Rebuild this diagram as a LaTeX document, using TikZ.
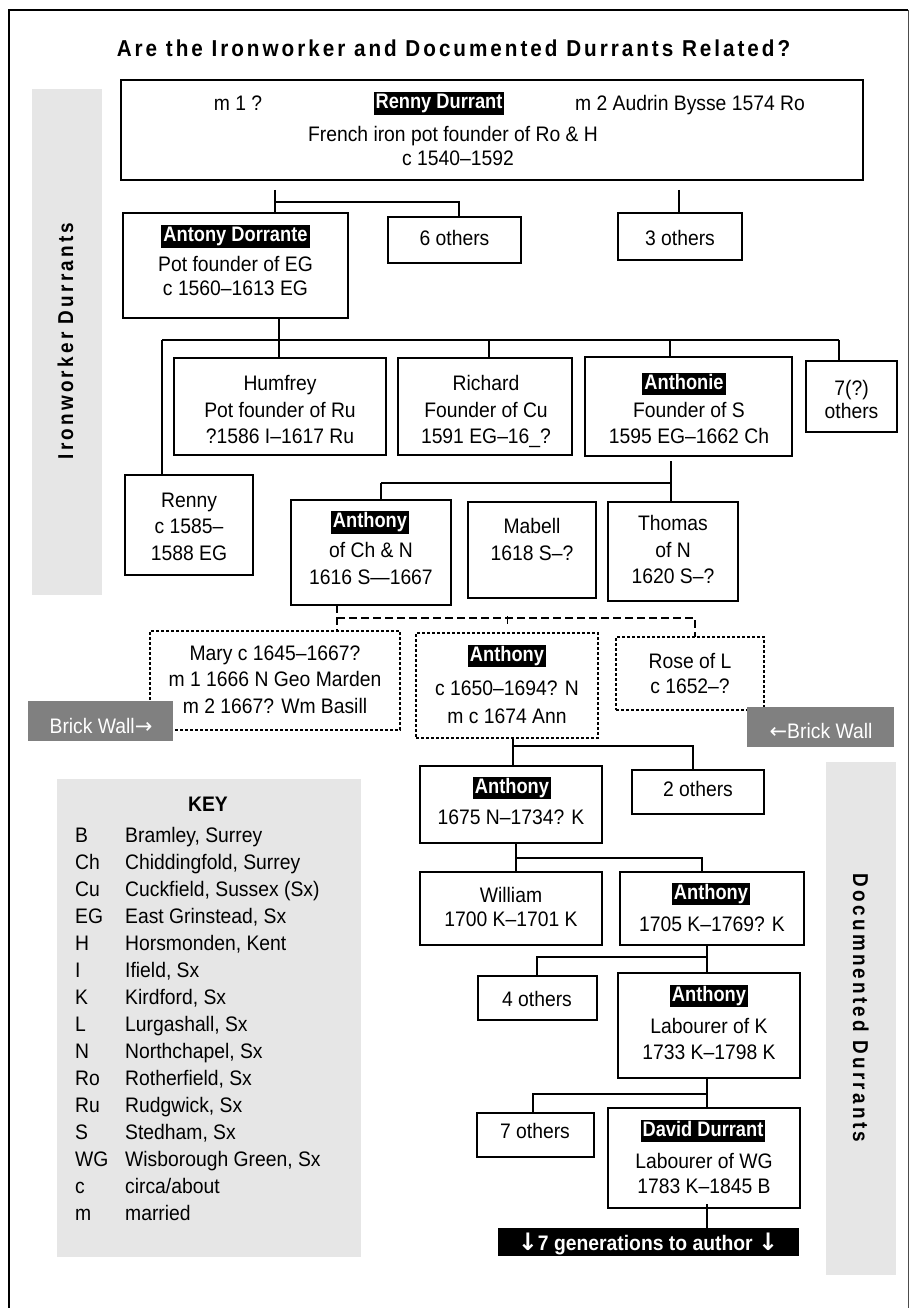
\documentclass[tikz,border=0pt]{standalone}
\usepackage{fontspec}
\setmainfont{Liberation Sans}[FakeStretch=0.92]
\newfontfamily\hlfont[FakeStretch=0.87]{Liberation Sans}
\newfontfamily\arrowfont{DejaVu Sans}
\newfontfamily\titlefont[FakeStretch=0.9,LetterSpace=12.9]{Liberation Sans}
\newfontfamily\sidefont[FakeStretch=0.88,LetterSpace=15]{Liberation Sans}
\definecolor{bandgray}{HTML}{E6E6E6}
\definecolor{brickgray}{HTML}{808080}
\newcommand\pbox[6][box]{\node[#1, minimum width={#5-#3}, minimum height={#6-#4}] (#2) at ({(#3+#5)/2},{(#4+#6)/2}) {};}
\newcommand\ptl[4]{\node[txt] (#1) at (#2,#3) {#4};}
\begin{document}
\begin{tikzpicture}[x=1pt,y=-1pt,
  box/.style={draw, line width=1.3pt, inner sep=0pt, outer sep=0pt},
  dbox/.style={draw, line width=1.2pt, dash pattern=on 3pt off 2pt, inner sep=0pt, outer sep=0pt},
  band/.style={fill=bandgray, inner sep=0pt, outer sep=0pt},
  brick/.style={fill=brickgray, inner sep=0pt, outer sep=0pt},
  blackbar/.style={fill=black, inner sep=0pt, outer sep=0pt},
  txt/.style={anchor=base, inner sep=0pt, font=\fontsize{21}{25}\selectfont},
  wtxt/.style={txt, text=white},
  hl/.style={fill=black, text=white, inner xsep=2pt, inner ysep=2pt, text height=14.5pt, text depth=4pt, font=\hlfont\bfseries\fontsize{21}{25}\selectfont},
  conn/.style={line width=1.3pt},
  dconn/.style={line width=1.2pt, dash pattern=on 8pt off 4pt},
  keyt/.style={anchor=base west, inner sep=0pt, font=\fontsize{21}{25}\selectfont}
]
\useasboundingbox (0,0) rectangle (912,1308);
\fill[white] (0,0) rectangle (912,1308);
% outer frame
\draw[line width=2.2pt] (9,1320) -- (9,10) -- (908,10);
\draw[line width=1pt, black!70] (908,10) -- (908,1320);
% title
\node[anchor=base, inner sep=0pt, font=\titlefont\bfseries\fontsize{23}{27}\selectfont] (title) at (453.5,57) {Are the Ironworker and Documented Durrants Related?};
% bands and key
\pbox[band]{leftband}{32}{89}{102}{595}
\pbox[band]{rightband}{826}{762}{896}{1275}
\pbox[band]{keybox}{57}{779}{361}{1257}
\node[rotate=90, anchor=base, inner sep=0pt, font=\sidefont\bfseries\fontsize{21.5}{24}\selectfont] (lefttitle) at (73,341) {Ironworker Durrants};
\node[rotate=-90, anchor=base, inner sep=0pt, font=\sidefont\bfseries\fontsize{21.5}{24}\selectfont] (righttitle) at (853,1008) {Documnented Durrants};
% key
\node[anchor=base, inner sep=0pt, font=\bfseries\fontsize{21}{25}\selectfont] (keyhead) at (208,811) {KEY};
\foreach \ab/\de [count=\i from 0] in {B/{Bramley, Surrey}, Ch/{Chiddingfold, Surrey}, Cu/{Cuckfield, Sussex (Sx)}, EG/{East Grinstead, Sx}, H/{Horsmonden, Kent}, I/{Ifield, Sx}, K/{Kirdford, Sx}, L/{Lurgashall, Sx}, N/{Northchapel, Sx}, Ro/{Rotherfield, Sx}, Ru/{Rudgwick, Sx}, S/{Stedham, Sx}, WG/{Wisborough Green, Sx}, c/{circa/about}, m/{married}}{
  \node[keyt] (ka\i) at (75,{842+27*\i}) {\ab};
  \node[keyt] (kd\i) at (125,{842+27*\i}) {\de};
}
% boxes
\pbox{top}{121}{80}{863}{180}
\pbox{antony}{123}{213}{348}{318}
\pbox{six}{388}{217}{521}{263}
\pbox{three}{618}{213}{742}{260}
\pbox{humfrey}{174}{358}{386}{455}
\pbox{richard}{398}{358}{572}{455}
\pbox{anthonie}{585}{357}{792}{456}
\pbox{sevenA}{806}{361}{897}{432}
\pbox{renny}{125}{475}{253}{575}
\pbox{anthonyN}{291}{500}{451}{605}
\pbox{mabell}{468}{502}{596}{598}
\pbox{thomas}{608}{502}{738}{601}
\pbox[dbox]{mary}{150}{631}{400}{730}
\pbox[dbox]{anthonyM}{416}{633}{598}{738}
\pbox[dbox]{rose}{616}{637}{764}{710}
\pbox{aS}{420}{766}{602}{843}
\pbox{two}{632}{770}{764}{814}
\pbox{william}{420}{872}{602}{945}
\pbox{aT}{620}{872}{804}{945}
\pbox{four}{478}{976}{597}{1020}
\pbox{aU}{618}{973}{800}{1078}
\pbox{sevenB}{477}{1113}{594}{1157}
\pbox{david}{608}{1108}{800}{1208}
\pbox[blackbar]{bar}{498}{1228}{799}{1256}
% brick walls
\pbox[brick]{brickL}{28}{701}{173}{741}
\pbox[brick]{brickR}{747}{707}{894}{747}
\node[wtxt] (brickLt) at (101,733) {Brick Wall{\arrowfont →}};
\node[wtxt] (brickRt) at (821,738) {{\arrowfont ←}Brick Wall};
% texts
\ptl{t1}{238}{111}{m 1 ?}
\node[hl] (h1) at (439,103.5) {Renny Durrant};
\ptl{t2}{690}{111}{m 2 Audrin Bysse 1574 Ro}
\ptl{t3}{453}{142}{French iron pot founder of Ro \& H}
\ptl{t4}{458}{166}{c 1540–1592}
\node[hl] (h2) at (235.5,236.5) {Antony Dorrante};
\ptl{t5}{235.5}{271}{Pot founder of EG}
\ptl{t6}{235.5}{295}{c 1560–1613 EG}
\ptl{t7}{454.5}{245}{6 others}
\ptl{t8}{680}{245}{3 others}
\ptl{t9}{280}{390}{Humfrey}
\ptl{t10}{280}{417}{Pot founder of Ru}
\ptl{t11}{280}{443}{?1586 I–1617 Ru}
\ptl{t12}{486}{390}{Richard}
\ptl{t13}{486}{417}{Founder of Cu}
\ptl{t14}{486}{443}{1591 EG–16\_?}
\node[hl] (h3) at (684,384) {Anthonie};
\ptl{t15}{689}{417}{Founder of S}
\ptl{t16}{689}{443}{1595 EG–1662 Ch}
\ptl{t17}{851.5}{395}{7(?)}
\ptl{t18}{851.5}{418}{others}
\ptl{t19}{189}{507}{Renny}
\ptl{t20}{189}{533}{c 1585–}
\ptl{t21}{189}{560}{1588 EG}
\node[hl] (h4) at (370,522.5) {Anthony};
\ptl{t22}{371}{557}{of Ch \& N}
\ptl{t23}{371}{584}{1616 S—1667}
\ptl{t24}{532}{533}{Mabell}
\ptl{t25}{532}{560}{1618 S–?}
\ptl{t26}{673}{530}{Thomas}
\ptl{t27}{673}{557}{of N}
\ptl{t28}{673}{583}{1620 S–?}
\ptl{t29}{275}{660}{Mary c 1645–1667?}
\ptl{t30}{275}{686}{m 1 1666 N Geo Marden}
\ptl{t31}{275}{713}{m 2 1667? Wm Basill}
\node[hl] (h5) at (507,656) {Anthony};
\ptl{t32}{507}{695}{c 1650–1694? N}
\ptl{t33}{507}{723}{m c 1674 Ann}
\ptl{t34}{690}{668}{Rose of L}
\ptl{t35}{690}{693}{c 1652–?}
\node[hl] (h6) at (512,788) {Anthony};
\ptl{t36}{511}{824}{1675 N–1734? K}
\ptl{t37}{698}{796}{2 others}
\ptl{t38}{511}{902}{William}
\ptl{t39}{511}{926}{1700 K–1701 K}
\node[hl] (h7) at (711,894) {Anthony};
\ptl{t40}{712}{931}{1705 K–1769? K}
\ptl{t41}{537}{1006}{4 others}
\node[hl] (h8) at (709,996) {Anthony};
\ptl{t42}{709}{1033}{Labourer of K}
\ptl{t43}{709}{1059}{1733 K–1798 K}
\ptl{t44}{535}{1138}{7 others}
\node[hl] (h9) at (703,1131) {David Durrant};
\ptl{t45}{704}{1168}{Labourer of WG}
\ptl{t46}{704}{1193}{1783 K–1845 B}
\node[wtxt, font=\bfseries\fontsize{21}{25}\selectfont] (bart) at (648,1250) {{\arrowfont\bfseries\fontsize{24}{25}\selectfont ↓}7 generations to author {\arrowfont\bfseries\fontsize{24}{25}\selectfont ↓}};
% connectors
\coordinate (c1) at (275,190);
\coordinate (c2) at (459,202);
\coordinate (c3) at (679,190);
\draw[conn] (c1) -- (c1 |- antony.north);
\draw[conn] (c1 |- c2) -- (c2) -- (c2 |- six.north);
\draw[conn] (c3) -- (c3 |- three.north);
\coordinate (d0) at (279,340);
\coordinate (dL) at (162,340);
\coordinate (dR) at (839,340);
\coordinate (dRi) at (489,340);
\coordinate (dAn) at (670,340);
\draw[conn] (d0 |- antony.south) -- (d0);
\draw[conn] (dL) -- (dR);
\draw[conn] (dL) -- (dL |- renny.north);
\draw[conn] (d0) -- (d0 |- humfrey.north);
\draw[conn] (dRi) -- (dRi |- richard.north);
\draw[conn] (dAn) -- (dAn |- anthonie.north);
\draw[conn] (dR) -- (dR |- sevenA.north);
\coordinate (e0) at (671,483);
\coordinate (eL) at (381,483);
\draw[conn] ([yshift=-5pt]e0 |- anthonie.south) -- (e0) -- (e0 |- thomas.north);
\draw[conn] (eL) -- (e0);
\draw[conn] (eL) -- (eL |- anthonyN.north);
\coordinate (f0) at (337,618);
\coordinate (fR) at (695,618);
\coordinate (fM) at (507,618);
\draw[dconn] (f0 |- anthonyN.south) -- (f0 |- mary.north);
\draw[dconn] (f0) -- (fR) -- (fR |- rose.north);
\draw[line width=1pt] ([yshift=2pt]fM) -- ([yshift=-6pt]fM);
\coordinate (g0) at (513,746);
\coordinate (gR) at (693,746);
\draw[conn] (g0 |- anthonyM.south) -- (g0 |- aS.north);
\draw[conn] (g0) -- (gR) -- (gR |- two.north);
\coordinate (k0) at (516,858);
\coordinate (kR) at (702,858);
\draw[conn] (k0 |- aS.south) -- (k0 |- william.north);
\draw[conn] (k0) -- (kR) -- (kR |- aT.north);
\coordinate (i0) at (707,957);
\coordinate (iL) at (537,957);
\draw[conn] (i0 |- aT.south) -- (i0 |- aU.north);
\draw[conn] (iL |- four.north) -- (iL) -- (i0);
\coordinate (j0) at (707,1094);
\coordinate (jL) at (533,1094);
\draw[conn] (j0 |- aU.south) -- (j0 |- david.north);
\draw[conn] (jL |- sevenB.north) -- (jL) -- (j0);
\draw[conn] ([yshift=4pt]j0 |- david.south) -- (j0 |- bar.north);
\end{tikzpicture}
\end{document}
